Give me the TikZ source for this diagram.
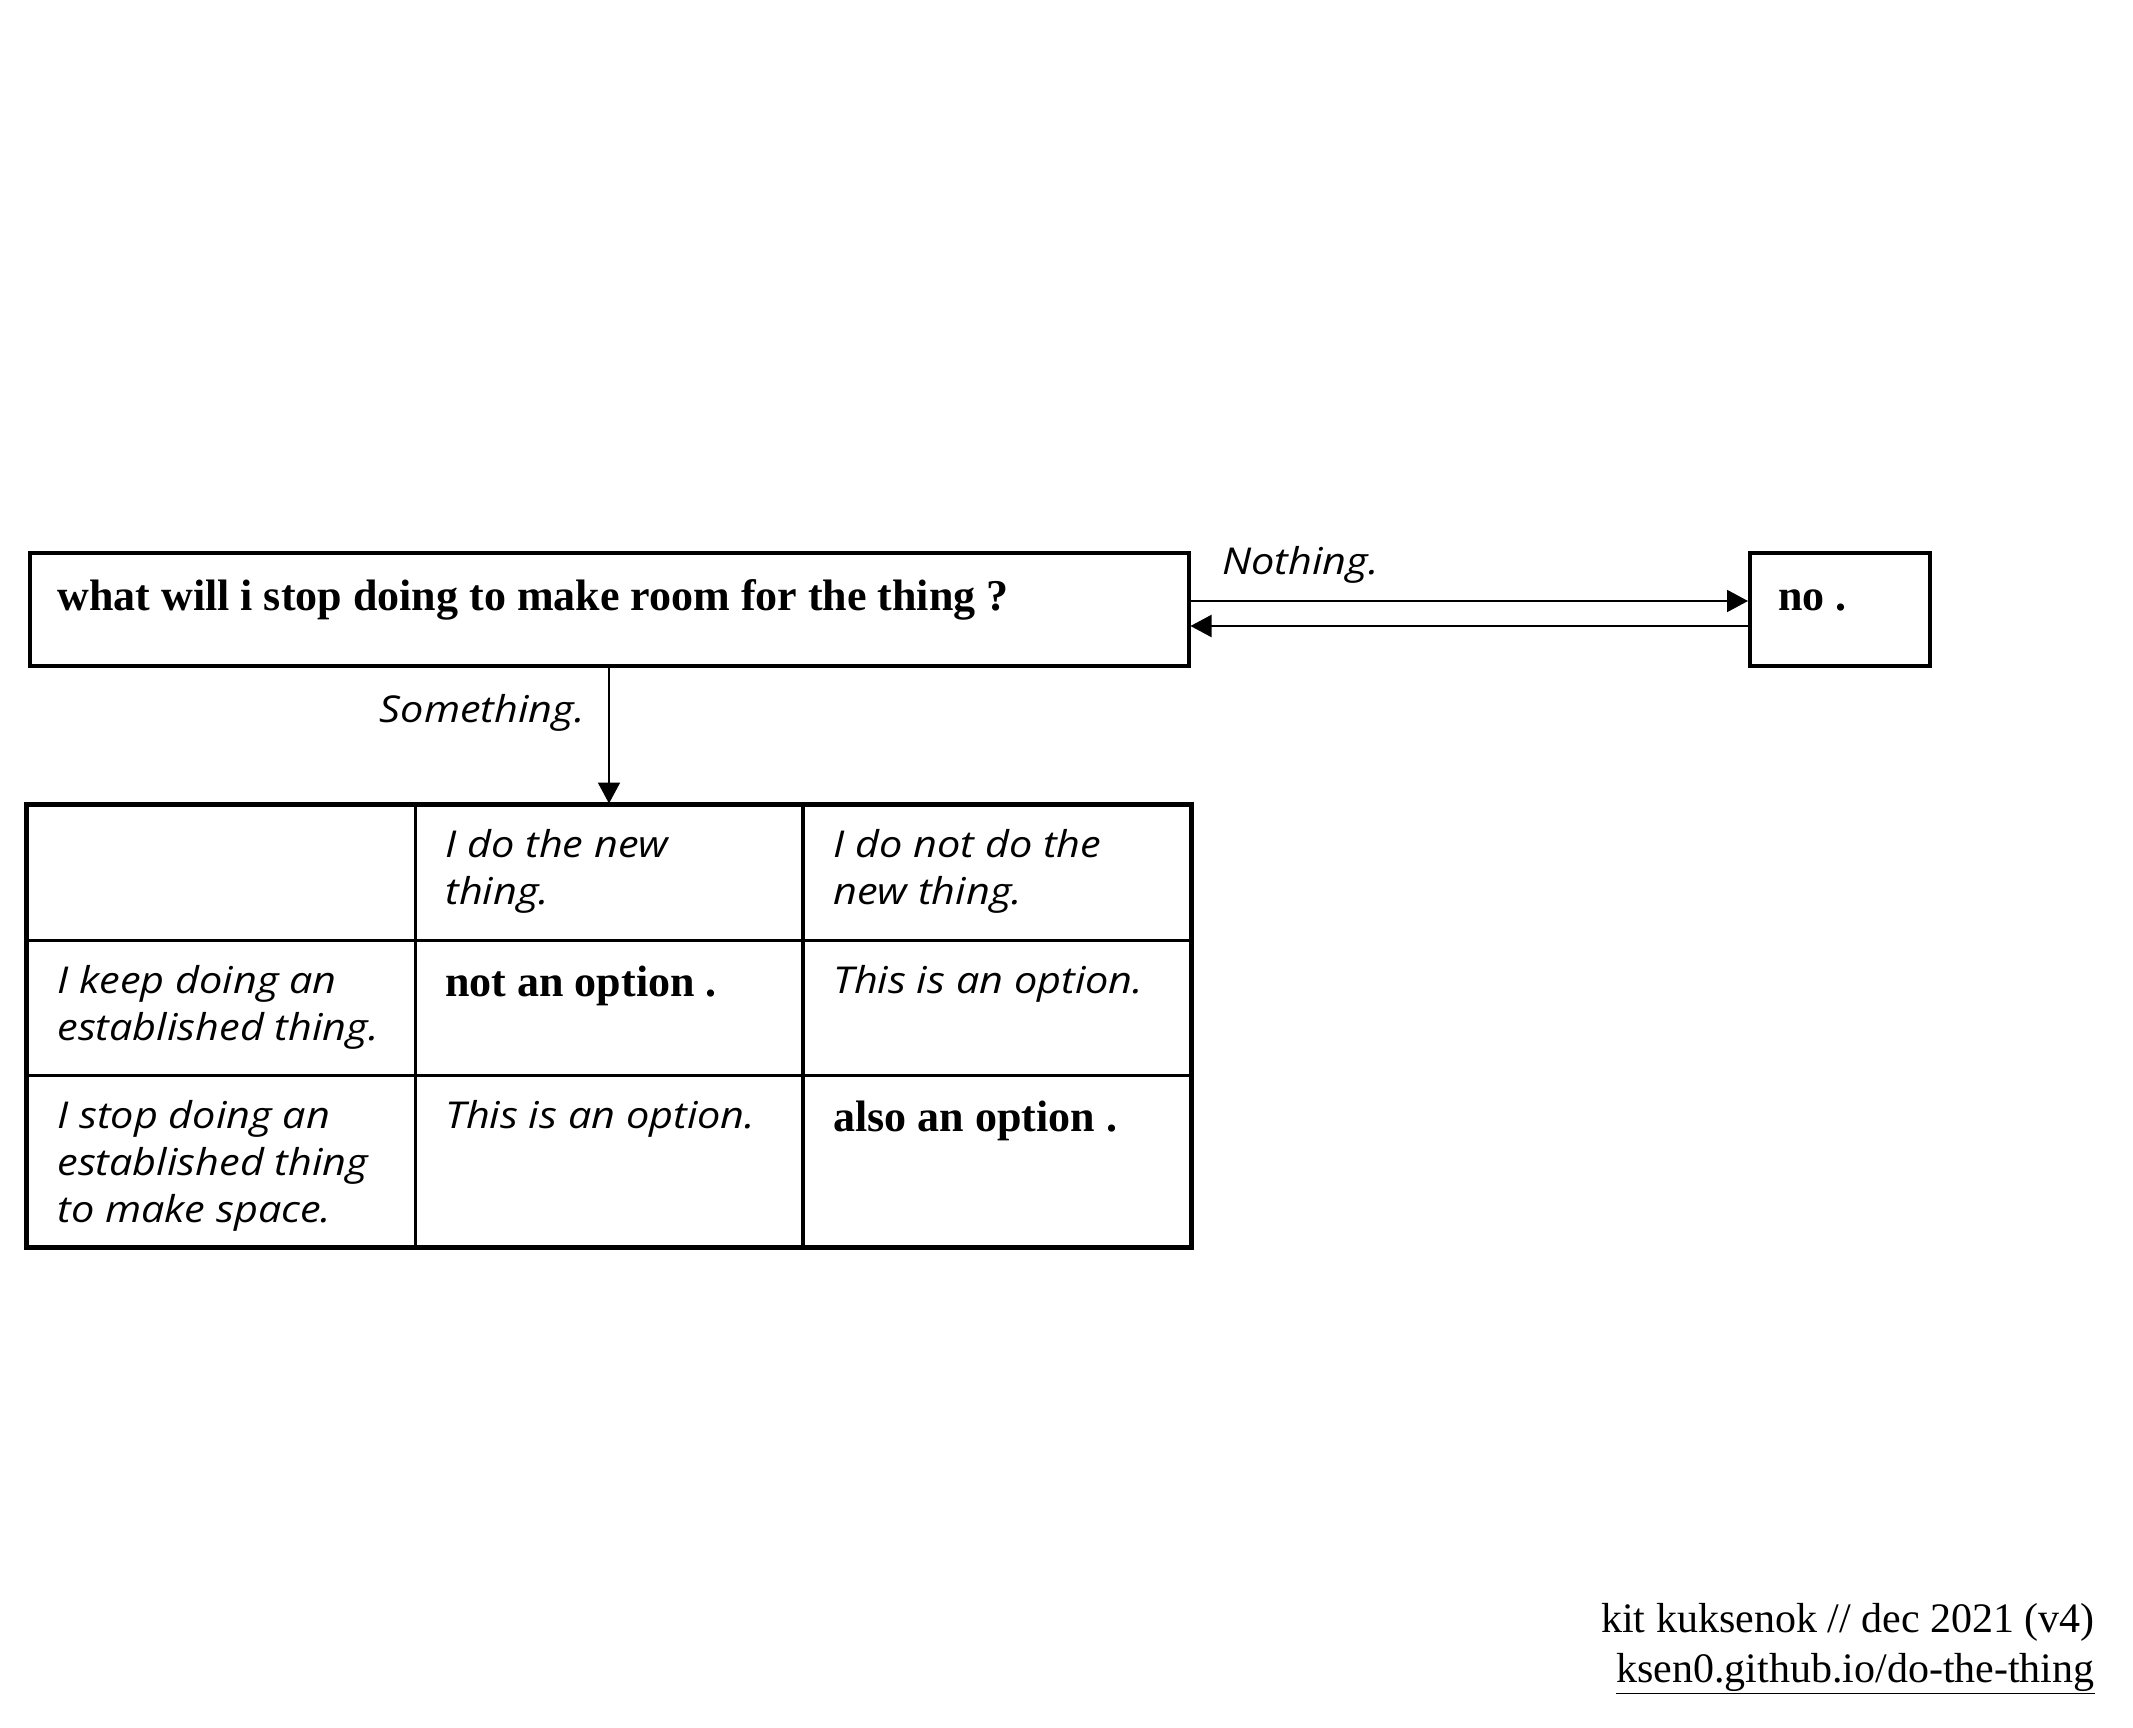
\documentclass[tikz,border=0pt]{standalone}
\usepackage{fontspec}
\setmainfont{Liberation Serif}
\newfontfamily\itf{Open Sans}[FakeStretch=1.12]
\usetikzlibrary{arrows.meta}
\newcommand\mylines[1]{\begin{tabular}[t]{@{}l@{}}#1\end{tabular}}
\begin{document}
\begin{tikzpicture}[x=0.5pt,y=-0.5pt,
  box/.style={draw, line width=2pt, inner sep=0, minimum height=56.5pt},
  cell/.style={draw, line width=1.5pt, inner sep=0, minimum width=194pt},
  arr/.style={line width=1pt, -{Triangle[length=10.5pt,width=11pt]}},
  ttl/.style={font=\fontsize{22}{26}\selectfont\bfseries, inner sep=0, anchor=base west},
  lbl/.style={font=\itf\itshape\fontsize{18.5}{23.5}\selectfont, inner sep=0},
  txt/.style={lbl, anchor=base west},
  credit/.style={font=\fontsize{21}{25}\selectfont, inner sep=0, anchor=base east}
]
\useasboundingbox (0,0) rectangle (2133,1728);
% boxes
\node[box, minimum width=579.5pt] (main) at (609,609.5) {};
\node[box, minimum width=90pt] (no) at (1840,609.5) {};
\node[ttl] (maint) at (57,610) {what will i stop doing to make room for the thing ?};
\node[ttl] (not) at (1778,610) {no .};
% arrows to/from no
\draw[arr] ([yshift=4.25pt]main.east) -- ([yshift=4.25pt]no.west);
\draw[arr] ([yshift=-8.25pt]no.west) -- ([yshift=-8.25pt]main.east);
\node[lbl, anchor=base west] (nothing) at (1222,574) {Nothing.};
% table cells
\node[cell, minimum height=67.5pt] (c00) at (221,872.5) {};
\node[cell, minimum height=67.5pt] (c01) at (609,872.5) {};
\node[cell, minimum height=67.5pt] (c02) at (996.5,872.5) {};
\node[cell, minimum height=67.5pt] (c10) at (221,1007.5) {};
\node[cell, minimum height=67.5pt] (c11) at (609,1007.5) {};
\node[cell, minimum height=67.5pt] (c12) at (996.5,1007.5) {};
\node[cell, minimum height=85.5pt] (c20) at (221,1160.5) {};
\node[cell, minimum height=85.5pt] (c21) at (609,1160.5) {};
\node[cell, minimum height=85.5pt] (c22) at (996.5,1160.5) {};
\draw[line width=2pt] (c00.north west) rectangle (c22.south east);
% down arrow
\draw[arr] (main.south) -- (main.south |- c01.north);
\node[lbl, anchor=base east] (something) at (585,722) {Something.};
% cell texts
\node[txt] (t01) at (445,857) {\mylines{I do the new\\thing.}};
\node[txt] (t02) at (833,857) {\mylines{I do not do the\\new thing.}};
\node[txt] (t10) at (57,993) {\mylines{I keep doing an\\established thing.}};
\node[ttl] (t11) at (445,996) {not an option .};
\node[txt] (t12) at (833,993) {This is an option.};
\node[txt] (t20) at (57,1128) {\mylines{I stop doing an\\established thing\\to make space.}};
\node[txt] (t21) at (445,1128) {This is an option.};
\node[ttl] (t22) at (833,1131) {also an option .};
% credits
\node[credit] (cr) at (2095,1632) {\begin{tabular}[t]{@{}r@{}}kit kuksenok // dec 2021 (v4)\\\underline{ksen0.github.io/do-the-thing}\end{tabular}};
\end{tikzpicture}
\end{document}
